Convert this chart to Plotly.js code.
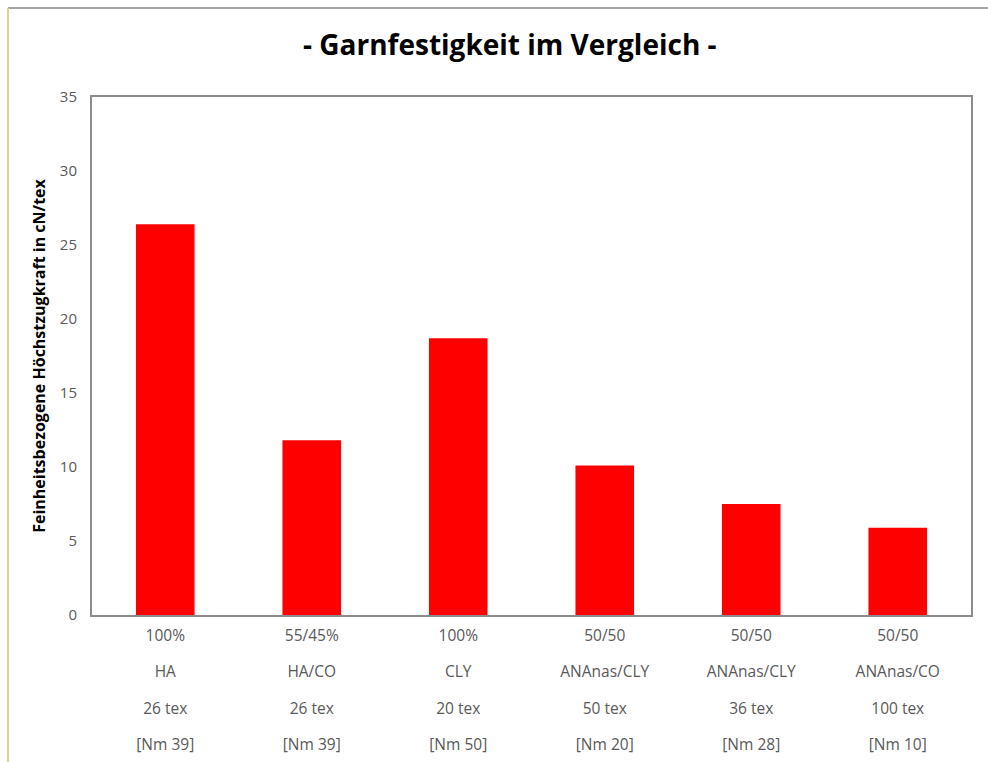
<!DOCTYPE html>
<html>
<head>
<meta charset="utf-8">
<script src="https://cdn.plot.ly/plotly-3.0.1.min.js"></script>
<style>html,body{margin:0;padding:0;background:#fff;}#chart{width:988px;height:762px;}</style>
</head>
<body>
<div id="chart"></div>
<script>
const blend = ["100%", "55/45%", "100%", "50/50", "50/50", "50/50"];
const fibre = ["HA", "HA/CO", "CLY", "ANAnas/CLY", "ANAnas/CLY", "ANAnas/CO"];
const tex = ["26 tex", "26 tex", "20 tex", "50 tex", "36 tex", "100 tex"];
const nm = ["[Nm 39]", "[Nm 39]", "[Nm 50]", "[Nm 20]", "[Nm 28]", "[Nm 10]"];
const strength = [26.4, 11.8, 18.7, 10.1, 7.5, 5.9];

const big = s => '<span style="font-size:15.5px">' + s + '</span>';
const sp = "<br> <br>";
const categories = blend.map((b, i) => b + sp + fibre[i] + sp + tex[i] + sp + nm[i]);
const tickLabels = blend.map((b, i) => big(b) + sp + big(fibre[i]) + sp + big(tex[i]) + sp + big(nm[i]));

const trace = {
  type: "bar",
  x: categories,
  y: strength,
  marker: {color: "#ff0000", line: {width: 0}},
  hoverinfo: "x+y"
};

const layout = {
  width: 988, height: 762,
  margin: {l: 92, r: 17, t: 97, b: 147, pad: 0},
  paper_bgcolor: "#ffffff",
  plot_bgcolor: "#ffffff",
  font: {family: "'Open Sans', Lato, sans-serif", color: "#595959"},
  bargap: 0.6,
  showlegend: false,
  title: {
    text: "<b>- Garnfestigkeit im Vergleich -</b>",
    font: {family: "'Open Sans', Lato, sans-serif", size: 28, color: "#000000"},
    x: 0.516, xref: "container", xanchor: "center",
    y: 0.941, yref: "container", yanchor: "middle"
  },
  xaxis: {
    type: "category",
    tickmode: "array",
    tickvals: categories,
    ticktext: tickLabels,
    showline: true, linecolor: "#8c8c8c", linewidth: 2,
    mirror: true,
    ticks: "", showgrid: false, zeroline: false,
    tickfont: {size: 14, color: "#595959"},
    ticklabelstandoff: 7,
    fixedrange: true
  },
  yaxis: {
    range: [0, 35],
    dtick: 5,
    showline: true, linecolor: "#8c8c8c", linewidth: 2,
    mirror: true,
    ticks: "", showgrid: false, zeroline: false,
    tickfont: {size: 15, color: "#595959"},
    ticklabelstandoff: 10,
    title: {
      text: "<b>Feinheitsbezogene Höchstzugkraft in cN/tex</b>",
      font: {size: 16, color: "#000000"},
      standoff: 10
    },
    fixedrange: true
  },
  shapes: [
    {type: "line", xref: "paper", yref: "paper", x0: -0.0956, x1: 1.03, y0: 1.172, y1: 1.172,
     line: {color: "#a6a6a6", width: 2}},
    {type: "line", xref: "paper", yref: "paper", x0: -0.0956, x1: -0.0956, y0: 1.172, y1: -0.3,
     line: {color: "#d9d3a0", width: 2}}
  ]
};

Plotly.newPlot("chart", [trace], layout, {displayModeBar: false, staticPlot: true});
</script>
</body>
</html>
